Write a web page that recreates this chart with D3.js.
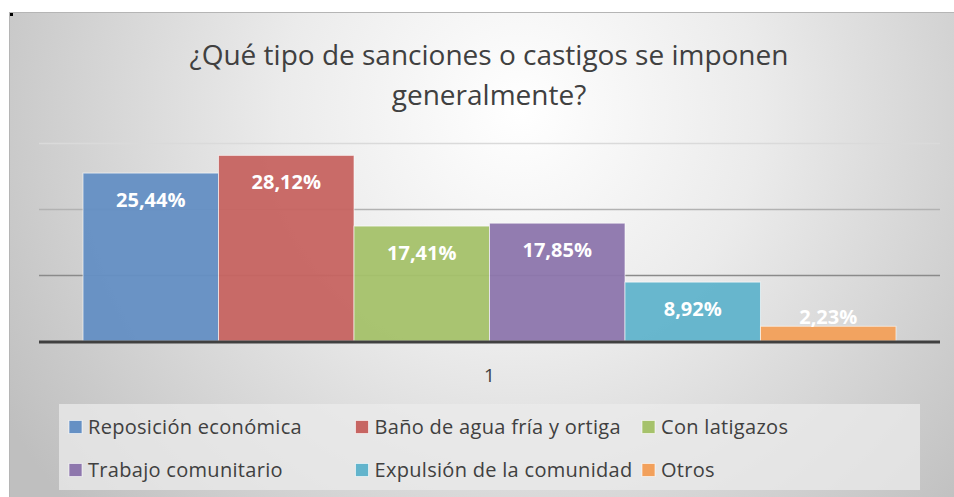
<!DOCTYPE html>
<html>
<head>
<meta charset="utf-8">
<script src="https://cdn.jsdelivr.net/npm/d3@7.9.0/dist/d3.min.js"></script>
<style>
  body { margin: 0; background: #fff; }
  svg { display: block; font-family: "Open Sans", sans-serif; }
</style>
</head>
<body>
<svg id="chart" width="954" height="497"></svg>
<script>
// data
const categories = ['Reposición económica', 'Baño de agua fría y ortiga', 'Con latigazos',
                    'Trabajo comunitario', 'Expulsión de la comunidad', 'Otros'];
const values = [25.44, 28.12, 17.41, 17.85, 8.92, 2.23];
const groups = ['1'];
const yTicks = [10, 20, 30];

const palette = ['#6590c4', '#c76562', '#a6c26b', '#8e77ad', '#62b4cc', '#f2a05b'];

const svg = d3.select('#chart');

// background gradient
let defs = svg.append('defs');
let grad = defs.append('radialGradient')
    .attr('id', 'bg')
    .attr('gradientUnits', 'userSpaceOnUse')
    .attr('cx', 520).attr('cy', 110).attr('r', 600);
grad.append('stop').attr('offset', '0%').attr('stop-color', '#ffffff');
grad.append('stop').attr('offset', '40%').attr('stop-color', '#ebebeb');
grad.append('stop').attr('offset', '100%').attr('stop-color', '#bfbfbf');

svg.append('rect')
    .attr('x', 9.5).attr('y', 12.5)
    .attr('width', 950).attr('height', 490)
    .attr('fill', 'url(#bg)')
    .attr('stroke', '#b5b5b5');

svg.append('rect').attr('x', 10).attr('y', 13).attr('width', 3).attr('height', 3).attr('fill', '#000');

// title
const title = svg.append('text')
    .attr('text-anchor', 'middle')
    .attr('fill', '#404040')
    .attr('font-size', 28);
title.append('tspan').attr('x', 489).attr('y', 65).text('¿Qué tipo de sanciones o castigos se imponen');
title.append('tspan').attr('x', 489).attr('y', 105).text('generalmente?');

// scales
const x0 = d3.scaleBand().domain(groups).range([39, 940]);
const x1 = d3.scaleBand().domain(categories).range([0, x0.bandwidth()]).paddingOuter(0.325);
const y = d3.scaleLinear().domain([0, 30]).range([341, 143]);
const color = d3.scaleOrdinal().domain(categories).range(palette);
const gridColor = d3.scaleLinear().domain([10, 30]).range(['#8a8a8a', '#dadada']);

// gridlines
svg.append('g').selectAll('line')
  .data(yTicks)
  .join('line')
    .attr('x1', 39).attr('x2', 940)
    .attr('y1', d => y(d) + 0.5).attr('y2', d => y(d) + 0.5)
    .attr('stroke', d => gridColor(d))
    .attr('stroke-width', 1.5);

// bars
const fmt = d => d3.format('.2f')(d).replace('.', ',') + '%';
const g = svg.append('g').attr('transform', `translate(${x0('1')},0)`);
g.selectAll('rect')
  .data(values)
  .join('rect')
    .attr('x', (d, i) => x1(categories[i]))
    .attr('y', d => y(d))
    .attr('width', x1.bandwidth())
    .attr('height', d => y(0) - y(d))
    .attr('fill', (d, i) => color(categories[i]))
    .attr('fill-opacity', 0.96)
    .attr('stroke', 'rgba(255,255,255,0.6)')
    .attr('stroke-width', 1);

g.selectAll('text')
  .data(values)
  .join('text')
    .attr('x', (d, i) => x1(categories[i]) + x1.bandwidth() / 2)
    .attr('y', d => (y(0) - y(d) > 40) ? y(d) + 34 : y(d) - 2)
    .attr('text-anchor', 'middle')
    .attr('fill', '#fff')
    .attr('font-weight', 'bold')
    .attr('font-size', 20)
    .text(d => fmt(d));

// baseline
svg.append('line')
    .attr('x1', 39).attr('x2', 940)
    .attr('y1', y(0) + 1).attr('y2', y(0) + 1)
    .attr('stroke', '#404040')
    .attr('stroke-width', 3);

// category axis
svg.append('text')
    .attr('x', x0('1') + x0.bandwidth() / 2)
    .attr('y', 382)
    .attr('text-anchor', 'middle')
    .attr('fill', '#404040')
    .attr('font-size', 19)
    .text(groups[0]);

// legend
svg.append('rect')
    .attr('x', 59).attr('y', 404)
    .attr('width', 861).attr('height', 86)
    .attr('fill', 'rgba(235,235,235,0.75)');

const legend = svg.append('g').selectAll('g')
  .data(categories)
  .join('g')
    .attr('transform', (d, i) => `translate(${69 + (i % 3) * 286.5},${427 + Math.floor(i / 3) * 43})`);
legend.append('rect')
    .attr('x', 0).attr('y', -6.5)
    .attr('width', 13).attr('height', 13)
    .attr('fill', d => color(d))
    .attr('stroke', 'rgba(255,255,255,0.6)');
legend.append('text')
    .attr('x', 19).attr('y', 7)
    .attr('fill', '#404040')
    .attr('font-size', 20)
    .attr('letter-spacing', 0.3)
    .text(d => d);
</script>
</body>
</html>
